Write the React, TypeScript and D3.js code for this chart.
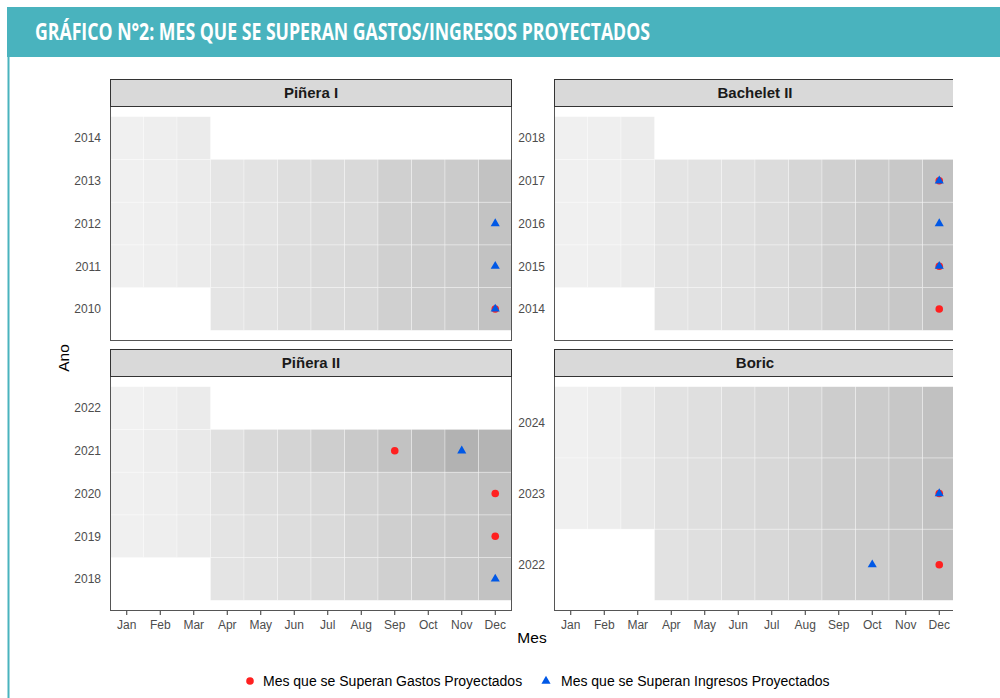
import React from "react";
import * as d3 from "d3";

const MONTHS = ["Jan", "Feb", "Mar", "Apr", "May", "Jun", "Jul", "Aug", "Sep", "Oct", "Nov", "Dec"];

const PANEL_NAMES = ["Piñera I", "Bachelet II", "Piñera II", "Boric"];

// intensity (fill) per year row, Jan..Dec (null = no tile)
const PINERA1_YEARS = [2010, 2011, 2012, 2013, 2014];
const PINERA1_VALUES: (number | null)[][] = [
  [null, null, null, 27, 31, 41, 47, 51, 69, 75, 78, 96],
  [6, 10, 16, 27, 32, 41, 47, 52, 69, 75, 79, 96],
  [5, 9, 15, 26, 30, 40, 46, 50, 68, 74, 78, 95],
  [6, 10, 16, 27, 31, 41, 47, 51, 69, 75, 78, 96],
  [6, 10, 16, null, null, null, null, null, null, null, null, null],
];

const BACHELET2_YEARS = [2014, 2015, 2016, 2017, 2018];
const BACHELET2_VALUES: (number | null)[][] = [
  [null, null, null, 29, 33, 37, 45, 57, 69, 78, 84, 98],
  [6, 9, 15, 30, 34, 38, 46, 57, 70, 79, 85, 98],
  [6, 8, 14, 29, 33, 37, 45, 57, 69, 78, 84, 98],
  [6, 8, 14, 29, 33, 37, 45, 57, 69, 78, 84, 98],
  [6, 8, 14, null, null, null, null, null, null, null, null, null],
];

const PINERA2_YEARS = [2018, 2019, 2020, 2021, 2022];
const PINERA2_VALUES: (number | null)[][] = [
  [null, null, null, 29, 33, 41, 47, 55, 69, 75, 80, 96],
  [5, 9, 15, 29, 35, 43, 49, 59, 70, 76, 82, 98],
  [6, 10, 16, 31, 39, 45, 51, 63, 71, 78, 84, 100],
  [6, 12, 20, 37, 51, 61, 73, 82, 96, 112, 127, 124],
  [4, 8, 16, null, null, null, null, null, null, null, null, null],
];

const BORIC_YEARS = [2022, 2023, 2024];
const BORIC_VALUES: (number | null)[][] = [
  [null, null, null, 33, 39, 47, 53, 63, 75, 78, 86, 100],
  [6, 12, 22, 33, 39, 47, 53, 63, 75, 78, 86, 98],
  [6, 12, 22, 33, 39, 47, 53, 63, 75, 78, 86, 98],
];

// markers: [panel, year, month(1-12)]
const GASTOS_POINTS: [string, number, number][] = [
  ["Piñera I", 2010, 12],
  ["Bachelet II", 2014, 12],
  ["Bachelet II", 2015, 12],
  ["Bachelet II", 2017, 12],
  ["Piñera II", 2021, 9],
  ["Piñera II", 2020, 12],
  ["Piñera II", 2019, 12],
  ["Boric", 2022, 12],
  ["Boric", 2023, 12],
];
const INGRESOS_POINTS: [string, number, number][] = [
  ["Piñera I", 2010, 12],
  ["Piñera I", 2011, 12],
  ["Piñera I", 2012, 12],
  ["Bachelet II", 2015, 12],
  ["Bachelet II", 2016, 12],
  ["Bachelet II", 2017, 12],
  ["Piñera II", 2021, 11],
  ["Piñera II", 2018, 12],
  ["Boric", 2022, 10],
  ["Boric", 2023, 12],
];

const LEGEND_LABELS = ["Mes que se Superan Gastos Proyectados", "Mes que se Superan Ingresos Proyectados"];

const PANEL_DATA: Record<string, { years: number[]; values: (number | null)[][] }> = {
  "Piñera I": { years: PINERA1_YEARS, values: PINERA1_VALUES },
  "Bachelet II": { years: BACHELET2_YEARS, values: BACHELET2_VALUES },
  "Piñera II": { years: PINERA2_YEARS, values: PINERA2_VALUES },
  Boric: { years: BORIC_YEARS, values: BORIC_VALUES },
};

const W = 1000;
const H = 698;
const FONT = "'Liberation Sans', Arial, sans-serif";
const RED = "#ff2020";
const BLUE = "#0058e6";
const TEAL = "#49b3be";

const COL_X = [110, 554];
const PANEL_W = 402;
const STRIP_TOP = [79, 349];
const STRIP_H = 27;
const PANEL_H = 235;

const color = d3.scaleLinear<string>().domain([0, 100]).range(["#f3f3f3", "#c0c0c0"]).interpolate(d3.interpolateRgb);

const triPath = d3.symbol().type(d3.symbolTriangle).size(36)() as string;

function Panel({ name, idx }: { name: string; idx: number }) {
  const col = idx % 2;
  const row = Math.floor(idx / 2);
  const x0 = COL_X[col];
  const sTop = STRIP_TOP[row];
  const pTop = sTop + STRIP_H;
  const pBot = pTop + PANEL_H;
  const { years, values } = PANEL_DATA[name];
  const n = years.length;
  const yMin = d3.min(years)! - 0.5;
  const yMax = d3.max(years)! + 0.5;
  const pad = (yMax - yMin) * 0.05;
  const x = d3.scaleLinear().domain([0.5, 12.5]).range([x0, x0 + PANEL_W]);
  const y = d3.scaleLinear().domain([yMin - pad, yMax + pad]).range([pBot, pTop]);

  const tiles: JSX.Element[] = [];
  years.forEach((yr, i) => {
    values[i].forEach((v, m) => {
      if (v == null) return;
      const xa = x(m + 0.5);
      const xb = x(m + 1.5);
      const ya = y(yr + 0.5);
      const yb = y(yr - 0.5);
      tiles.push(
        <rect key={`${yr}-${m}`} x={xa} y={ya} width={xb - xa} height={yb - ya} fill={color(v)} stroke="#ffffff" strokeOpacity={0.55} strokeWidth={0.6} />
      );
    });
  });

  return (
    <g>
      <rect x={x0 + 0.5} y={pTop} width={PANEL_W - 1} height={PANEL_H} fill="#ffffff" />
      {tiles}
      {GASTOS_POINTS.filter((p) => p[0] === name).map((p, i) => (
        <circle key={`g${i}`} cx={x(p[2])} cy={y(p[1])} r={3.8} fill={RED} />
      ))}
      {INGRESOS_POINTS.filter((p) => p[0] === name).map((p, i) => (
        <path key={`i${i}`} d={triPath} transform={`translate(${x(p[2])},${y(p[1])})`} fill={BLUE} />
      ))}
      <rect x={x0 + 0.5} y={pTop + 0.5} width={PANEL_W - 1} height={PANEL_H - 1} fill="none" stroke="#555" strokeWidth={1} />
      <rect x={x0 + 0.5} y={sTop + 0.5} width={PANEL_W - 1} height={STRIP_H} fill="#d9d9d9" stroke="#333" strokeWidth={1} />
      <text x={x0 + PANEL_W / 2} y={sTop + STRIP_H / 2 + 5.5} textAnchor="middle" fontFamily={FONT} fontWeight="bold" fontSize={15} fill="#1a1a1a">
        {name}
      </text>
      {years.map((yr) => (
        <text key={yr} x={x0 - 9} y={y(yr) + 4.3} textAnchor="end" fontFamily={FONT} fontSize={12} fill="#4d4d4d">
          {yr}
        </text>
      ))}
      {row === 1 &&
        MONTHS.map((m, i) => (
          <g key={m}>
            <line x1={x(i + 1)} x2={x(i + 1)} y1={pBot} y2={pBot + 4} stroke="#333" strokeWidth={1} />
            <text x={x(i + 1)} y={pBot + 18} textAnchor="middle" fontFamily={FONT} fontSize={12} fill="#4d4d4d">
              {m}
            </text>
          </g>
        ))}
    </g>
  );
}

export default function App() {
  return (
    <div style={{ position: "absolute", left: 0, top: 0 }}>
      <svg width={W} height={H} viewBox={`0 0 ${W} ${H}`} style={{ display: "block", background: "#fff" }}>
        <defs>
          <clipPath id="chartClip">
            <rect x={0} y={60} width={953} height={H - 60} />
          </clipPath>
        </defs>
        <rect x={0} y={0} width={W} height={H} fill="#ffffff" />
        <rect x={7} y={7} width={W - 7} height={50} fill={TEAL} />
        <line x1={8.5} x2={8.5} y1={57} y2={H} stroke={TEAL} strokeWidth={2} />
        <text x={35} y={40} fontFamily="'Open Sans', sans-serif" fontWeight="bold" fontSize={23} fill="#ffffff" textLength={615} lengthAdjust="spacingAndGlyphs">
          GRÁFICO N°2: MES QUE SE SUPERAN GASTOS/INGRESOS PROYECTADOS
        </text>
        <g clipPath="url(#chartClip)">
          {PANEL_NAMES.map((p, i) => (
            <Panel key={p} name={p} idx={i} />
          ))}
        </g>
        <text x={532} y={643} textAnchor="middle" fontFamily={FONT} fontSize={15.5} fill="#000">
          Mes
        </text>
        <text transform="translate(69,358) rotate(-90)" textAnchor="middle" fontFamily={FONT} fontSize={15.5} fill="#000">
          Ano
        </text>
        <circle cx={250} cy={681} r={3.8} fill={RED} />
        <text x={263} y={686} fontFamily={FONT} fontSize={14} fill="#000">
          {LEGEND_LABELS[0]}
        </text>
        <path d={triPath} transform="translate(546,681)" fill={BLUE} />
        <text x={561} y={686} fontFamily={FONT} fontSize={14} fill="#000">
          {LEGEND_LABELS[1]}
        </text>
      </svg>
    </div>
  );
}
